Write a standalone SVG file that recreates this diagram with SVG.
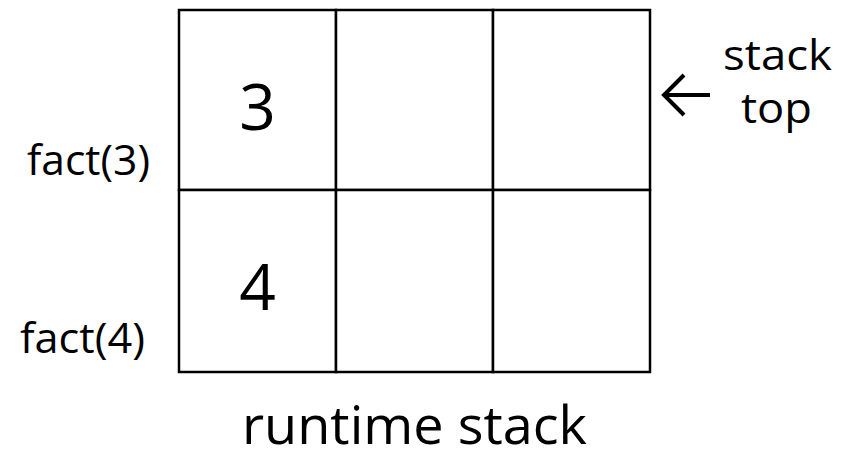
<svg xmlns="http://www.w3.org/2000/svg" width="848" height="451" viewBox="0 0 848 451">
<style>
.t{font-family:"Open Sans","Noto Sans","Liberation Sans",sans-serif;fill:#000}
.cell{fill:#fff;stroke:#000;stroke-width:2.5}
</style>
<rect width="848" height="451" fill="#fff"/>
<g id="stack">
<rect class="cell" x="179" y="10" width="157" height="180"/>
<rect class="cell" x="336" y="10" width="157" height="180"/>
<rect class="cell" x="493" y="10" width="157" height="180"/>
<rect class="cell" x="179" y="190" width="157" height="182"/>
<rect class="cell" x="336" y="190" width="157" height="182"/>
<rect class="cell" x="493" y="190" width="157" height="182"/>
</g>
<g id="val3"><text class="t" x="257.5" y="130" font-size="64" text-anchor="middle">3</text></g>
<g id="val4"><text class="t" x="257.5" y="310" font-size="64" text-anchor="middle">4</text></g>
<g id="label-fact3"><text class="t" x="27" y="175" font-size="42" textLength="123" lengthAdjust="spacingAndGlyphs">fact(3)</text></g>
<g id="label-fact4"><text class="t" x="20" y="353" font-size="42" textLength="125" lengthAdjust="spacingAndGlyphs">fact(4)</text></g>
<g id="label-top"><text class="t" x="723" y="70" font-size="42" textLength="109" lengthAdjust="spacingAndGlyphs">stack</text><text class="t" x="741" y="123" font-size="42" textLength="71" lengthAdjust="spacingAndGlyphs">top</text></g>
<g id="title"><text class="t" x="242" y="444" font-size="53" textLength="345" lengthAdjust="spacingAndGlyphs">runtime stack</text></g>
<g id="connectors">
<path d="M664,95 H710 M684,75 L664,95 L684,115" fill="none" stroke="#000" stroke-width="4"/>
</g>
</svg>
